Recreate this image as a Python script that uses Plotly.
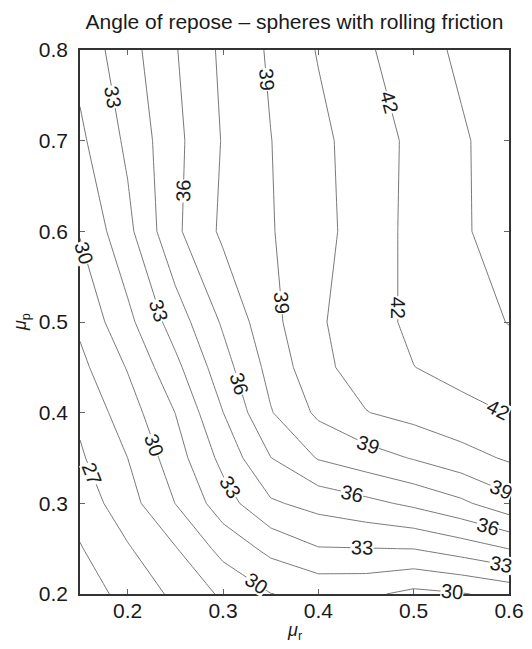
import math
import plotly.graph_objects as go

# rolling friction coefficient (x) and particle friction coefficient (y)
mu_r = [0.15, 0.2, 0.25, 0.3, 0.35, 0.4, 0.45, 0.5, 0.55, 0.6]
mu_p = [0.2, 0.25, 0.3, 0.35, 0.4, 0.45, 0.5, 0.6, 0.7, 0.8]

# angle of repose (degrees), one row per mu_p value
angle_02 = [24.7, 26.0, 27.3, 28.75, 29.97, 30.36, 30.3, 29.6, 29.9, 30.45]
angle_025 = [25.4, 26.85, 28.4, 30.5, 31.9, 32.92, 32.96, 33.02, 33.7, 34.52]
angle_03 = [26.1, 27.9, 30.02, 32.3, 34.3, 35.0, 35.6, 36.3, 37.2, 38.5]
angle_035 = [26.8, 28.5, 30.8, 33.45, 35.97, 37.6, 38.35, 39.1, 39.9, 40.7]
angle_04 = [27.3, 29.3, 31.52, 34.48, 37.4, 39.3, 40.45, 41.0, 41.6, 42.05]
angle_045 = [28.1, 30.1, 32.6, 35.4, 38.0, 40.1, 41.2, 41.98, 42.45, 42.85]
angle_05 = [28.8, 31.1, 33.7, 36.2, 38.55, 40.3, 41.4, 42.3, 42.9, 43.55]
angle_06 = [30.1, 32.6, 35.7, 37.8, 38.9, 40.02, 41.2, 42.4, 43.3, 44.2]
angle_07 = [31.2, 33.3, 35.6, 37.6, 38.97, 40.1, 41.3, 42.3, 43.3, 44.3]
angle_08 = [32.0, 33.9, 35.9, 37.8, 39.2, 40.6, 41.8, 42.8, 43.8, 44.4]

z = [angle_02, angle_025, angle_03, angle_035, angle_04, angle_045,
     angle_05, angle_06, angle_07, angle_08]

x_ticks = [0.2, 0.3, 0.4, 0.5, 0.6]
y_ticks = [0.2, 0.3, 0.4, 0.5, 0.6, 0.7, 0.8]

# where each contour label sits: (level, cut axis, cut value, hint on other axis)
label_spots = [
    (33, "y", 0.748, 0.18), (39, "y", 0.767, 0.34), (42, "y", 0.742, 0.47),
    (36, "y", 0.645, 0.25), (30, "y", 0.576, 0.155), (33, "y", 0.513, 0.23),
    (39, "y", 0.521, 0.36), (42, "y", 0.516, 0.475), (36, "y", 0.432, 0.32),
    (42, "x", 0.588, 0.40), (30, "y", 0.364, 0.23), (39, "x", 0.452, 0.35),
    (27, "y", 0.333, 0.16), (33, "x", 0.307, 0.31), (36, "x", 0.435, 0.29),
    (39, "x", 0.592, 0.30), (36, "x", 0.578, 0.27), (33, "x", 0.446, 0.25),
    (33, "x", 0.592, 0.23), (30, "x", 0.335, 0.21), (30, "x", 0.54, 0.205),
]

FONT = "Liberation Sans, Arial, Helvetica, sans-serif"
LINE = "#555555"
# the page body adds an 8 px offset on the left and top
W, H = 524, 641
M = dict(l=72, r=23, t=42, b=55)
X_RANGE = [0.15, 0.6]
Y_RANGE = [0.2, 0.8]
SX = (W - M["l"] - M["r"]) / (X_RANGE[1] - X_RANGE[0])
SY = (H - M["t"] - M["b"]) / (Y_RANGE[1] - Y_RANGE[0])


def level_segments(level):
    """Straight pieces of a contour level, cell by cell (marching squares)."""
    segs = []
    for j in range(len(mu_p) - 1):
        for i in range(len(mu_r) - 1):
            corners = [(mu_r[i], mu_p[j], z[j][i]), (mu_r[i + 1], mu_p[j], z[j][i + 1]),
                       (mu_r[i + 1], mu_p[j + 1], z[j + 1][i + 1]), (mu_r[i], mu_p[j + 1], z[j + 1][i])]
            pts = []
            for k in range(4):
                xa, ya, za = corners[k]
                xb, yb, zb = corners[(k + 1) % 4]
                if (za - level) * (zb - level) < 0:
                    t = (level - za) / (zb - za)
                    pts.append((xa + t * (xb - xa), ya + t * (yb - ya)))
            if len(pts) == 2:
                segs.append((pts[0], pts[1]))
            elif len(pts) == 4:
                segs.append((pts[0], pts[1]))
                segs.append((pts[2], pts[3]))
    return segs


def label_point(level, axis, value, hint):
    best = None
    for p, q in level_segments(level):
        a = 1 if axis == "y" else 0
        b = 1 - a
        if p[a] == q[a] or (p[a] - value) * (q[a] - value) > 0:
            continue
        t = (value - p[a]) / (q[a] - p[a])
        other = p[b] + t * (q[b] - p[b])
        pt = (other, value) if axis == "y" else (value, other)
        dist = abs(other - hint)
        if best is None or dist < best[0]:
            ang = math.degrees(math.atan2(-(q[1] - p[1]) * SY, (q[0] - p[0]) * SX))
            while ang > 90:
                ang -= 180
            while ang <= -90:
                ang += 180
            best = (dist, pt, ang)
    return best


fig = go.Figure()
fig.add_trace(go.Contour(
    x=mu_r, y=mu_p, z=z,
    autocontour=False,
    contours=dict(start=25.5, end=43.5, size=1.5, coloring="none", showlabels=False),
    line=dict(color=LINE, width=0.8, smoothing=0),
    showscale=False, hoverinfo="skip",
))

annotations = []
for level, axis, value, hint in label_spots:
    found = label_point(level, axis, value, hint)
    if found is None:
        continue
    _, (lx, ly), ang = found
    annotations.append(dict(
        x=lx, y=ly, xref="x", yref="y", text=str(level), textangle=ang,
        showarrow=False, xanchor="center", yanchor="middle",
        bgcolor="white", borderpad=0, height=17,
        font=dict(family=FONT, size=20, color="#1a1a1a"),
    ))

# axis titles
annotations.append(dict(
    x=0.5, y=0, xref="paper", yref="paper", yshift=-37, showarrow=False,
    xanchor="center", yanchor="middle", text="<i>μ</i><sub>r</sub>",
    font=dict(family=FONT, size=18, color="#1a1a1a"),
))
annotations.append(dict(
    x=0, y=0.5, xref="paper", yref="paper", xshift=-59, showarrow=False,
    xanchor="center", yanchor="middle", textangle=-90, text="<i>μ</i><sub>p</sub>",
    font=dict(family=FONT, size=18, color="#1a1a1a"),
))

axis_common = dict(
    showgrid=False, zeroline=False, automargin=False,
    showline=True, linecolor="#333333", linewidth=1.6, mirror="ticks",
    ticks="inside", ticklen=5, tickcolor="#666666", tickwidth=1,
    tickfont=dict(family=FONT, size=21, color="#1a1a1a"),
)

fig.update_layout(
    width=W, height=H,
    margin=M,
    paper_bgcolor="white", plot_bgcolor="white",
    title=dict(text="Angle of repose – spheres with rolling friction",
               x=0.5, xref="paper", y=1 - 14 / H, yref="container",
               xanchor="center", yanchor="middle",
               font=dict(family=FONT, size=21, color="#1a1a1a")),
    xaxis=dict(range=X_RANGE, tickvals=x_ticks,
               ticktext=[f"{v:.1f}" for v in x_ticks],
               ticklabelstandoff=-3, **axis_common),
    yaxis=dict(range=Y_RANGE, tickvals=y_ticks,
               ticktext=[f"{v:.1f}" for v in y_ticks],
               ticklabelstandoff=6, **axis_common),
    annotations=annotations,
    showlegend=False,
)

fig.write_html("out.html")
